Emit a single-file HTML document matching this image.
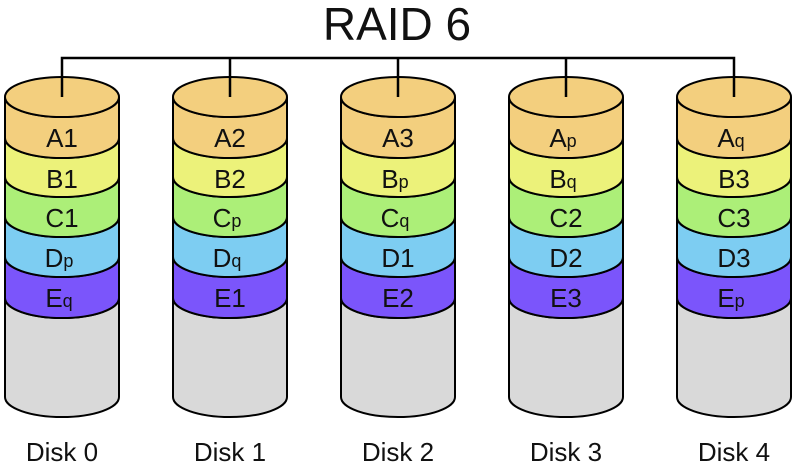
<!DOCTYPE html>
<html><head><style>body{margin:0;background:#fff}svg{display:block}</style></head><body>
<svg width="795" height="465" viewBox="0 0 795 465" xmlns="http://www.w3.org/2000/svg" font-family="Liberation Sans, DejaVu Sans, sans-serif">
<defs>
<g id="cyl" stroke="#000" stroke-width="2">
<path d="M-57,298 A57 20 0 0 0 57,298 L57,397 A57 20 0 0 1 -57,397 Z" fill="#d9d9d9"/>
<path d="M-57,257 A57 20 0 0 0 57,257 L57,298 A57 20 0 0 1 -57,298 Z" fill="#7b55fb"/>
<path d="M-57,217 A57 20 0 0 0 57,217 L57,257 A57 20 0 0 1 -57,257 Z" fill="#7dcdf2"/>
<path d="M-57,177 A57 20 0 0 0 57,177 L57,217 A57 20 0 0 1 -57,217 Z" fill="#acef78"/>
<path d="M-57,138 A57 20 0 0 0 57,138 L57,177 A57 20 0 0 1 -57,177 Z" fill="#ecf27a"/>
<path d="M-57,97 A57 20 0 0 0 57,97 L57,138 A57 20 0 0 1 -57,138 Z" fill="#f3cf7e"/>
<ellipse cx="0" cy="97" rx="57" ry="20" fill="#f3cf7e"/>
</g>
</defs>
<rect width="795" height="465" fill="#fff"/>
<text x="397" y="40" font-size="46" text-anchor="middle" fill="#111">RAID 6</text>
<use href="#cyl" x="62"/><use href="#cyl" x="230"/><use href="#cyl" x="398"/><use href="#cyl" x="566"/><use href="#cyl" x="734"/>
<g stroke="#000" stroke-width="2.5" fill="none">
<polyline points="62,97 62,58 734,58 734,97"/>
<line x1="230" y1="58" x2="230" y2="97"/><line x1="398" y1="58" x2="398" y2="97"/><line x1="566" y1="58" x2="566" y2="97"/>
</g>
<g font-size="26" text-anchor="middle" fill="#111">
<text x="62" y="147">A1</text><text x="62" y="188">B1</text><text x="62" y="227">C1</text><text x="59" y="267">D<tspan font-size="18">p</tspan></text><text x="59" y="307">E<tspan font-size="18">q</tspan></text>
<text x="230" y="147">A2</text><text x="230" y="188">B2</text><text x="227" y="227">C<tspan font-size="18">p</tspan></text><text x="227" y="267">D<tspan font-size="18">q</tspan></text><text x="230" y="307">E1</text>
<text x="398" y="147">A3</text><text x="395" y="188">B<tspan font-size="18">p</tspan></text><text x="395" y="227">C<tspan font-size="18">q</tspan></text><text x="398" y="267">D1</text><text x="398" y="307">E2</text>
<text x="563" y="147">A<tspan font-size="18">p</tspan></text><text x="563" y="188">B<tspan font-size="18">q</tspan></text><text x="566" y="227">C2</text><text x="566" y="267">D2</text><text x="566" y="307">E3</text>
<text x="731" y="147">A<tspan font-size="18">q</tspan></text><text x="734" y="188">B3</text><text x="734" y="227">C3</text><text x="734" y="267">D3</text><text x="731" y="307">E<tspan font-size="18">p</tspan></text>
</g>
<g font-size="26" text-anchor="middle" fill="#111">
<text x="62" y="461">Disk 0</text><text x="230" y="461">Disk 1</text><text x="398" y="461">Disk 2</text><text x="566" y="461">Disk 3</text><text x="734" y="461">Disk 4</text>
</g>
</svg>
</body></html>
